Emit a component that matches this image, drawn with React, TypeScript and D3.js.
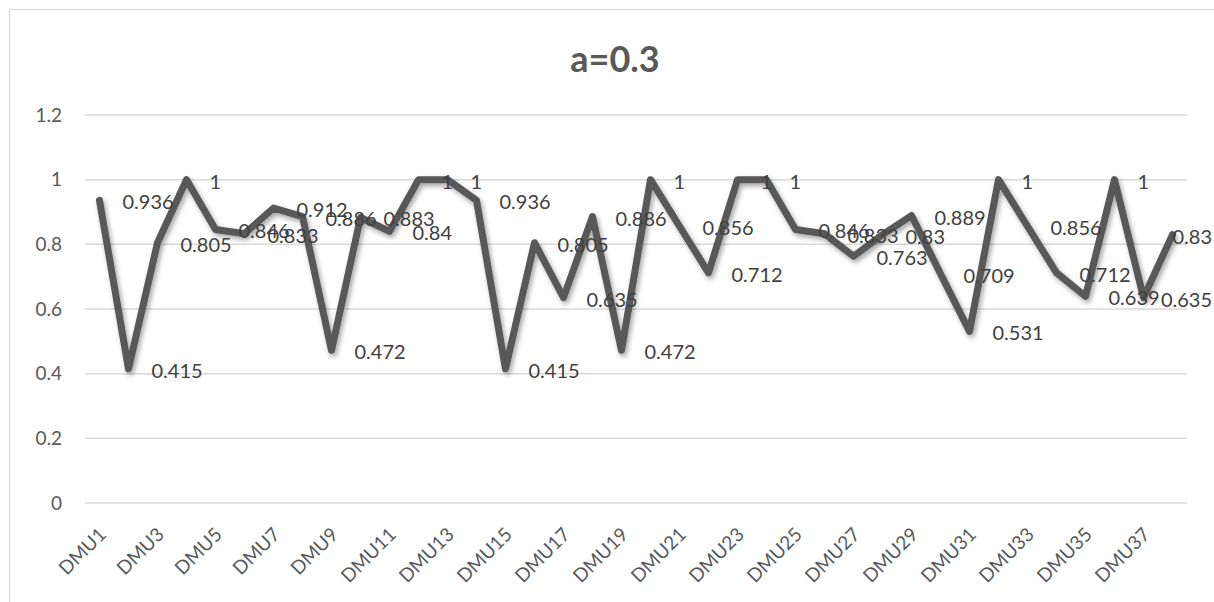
import React, { useEffect, useRef } from "react";
import * as d3 from "d3";

const categories: string[] = Array.from({ length: 38 }, (_, i) => `DMU${i + 1}`);
const values: number[] = [
  0.936, 0.415, 0.805, 1, 0.846, 0.833, 0.912, 0.886, 0.472, 0.883,
  0.84, 1, 1, 0.936, 0.415, 0.805, 0.635, 0.886, 0.472, 1,
  0.856, 0.712, 1, 1, 0.846, 0.833, 0.763, 0.83, 0.889, 0.709,
  0.531, 1, 0.856, 0.712, 0.639, 1, 0.635, 0.83,
];
const yTicks: number[] = [0, 0.2, 0.4, 0.6, 0.8, 1, 1.2];
const title = "a=0.3";

const W = 1214;
const H = 602;
const FONT = "Lato, 'Open Sans', sans-serif";

const x = d3.scalePoint<string>().domain(categories).range([85, 1187]).padding(0.5);
const y = d3.scaleLinear().domain([0, 1.2]).range([503, 115]);
const fmt = d3.format("~g");

export default function App() {
  const labelsRef = useRef<SVGGElement | null>(null);

  useEffect(() => {
    document.body.style.margin = "0";
    const g = labelsRef.current;
    if (!g) return;
    g.querySelectorAll("text").forEach((el) => {
      const t = el as SVGTextElement;
      const w = t.getComputedTextLength();
      const lx = +t.getAttribute("x")!;
      if (lx + w > W - 2) t.setAttribute("x", String(W - 2 - w));
    });
  }, []);

  const line = d3.line<number>().x((_, i) => x(categories[i]) as number).y((d) => y(d));

  return (
    <svg width={W} height={H} style={{ display: "block" }}>
      <defs>
        <filter id="shadow" x="-10%" y="-10%" width="120%" height="130%">
          <feDropShadow dx={2} dy={3} stdDeviation={2.5} floodColor="#000" floodOpacity={0.35} />
        </filter>
      </defs>
      <rect width={W} height={H} fill="#fff" />
      <rect x={9.5} y={9.5} width={W + 20} height={H + 20} fill="none" stroke="#d9d9d9" strokeWidth={1.2} />
      <text x={615} y={72} textAnchor="middle" fontFamily={FONT} fontWeight="bold" fontSize={36} fill="#595959">
        {title}
      </text>
      {yTicks.map((t) => (
        <line key={`g${t}`} x1={85} x2={1187} y1={y(t)} y2={y(t)} stroke="#d9d9d9" strokeWidth={1.5} />
      ))}
      {yTicks.map((t) => (
        <text key={`y${t}`} x={62} y={y(t)} dy="0.35em" textAnchor="end" fontFamily={FONT} fontSize={19} fill="#595959">
          {fmt(t)}
        </text>
      ))}
      {categories.filter((_, i) => i % 2 === 0).map((c) => {
        const cx = (x(c) as number) + 3;
        const cy = 531;
        return (
          <text
            key={c}
            x={cx}
            y={cy}
            dy="0.35em"
            textAnchor="end"
            transform={`rotate(-45, ${cx}, ${cy})`}
            fontFamily={FONT}
            fontSize={19}
            fill="#595959"
          >
            {c}
          </text>
        );
      })}
      <path
        d={line(values) ?? ""}
        fill="none"
        stroke="#595959"
        strokeWidth={7}
        strokeLinejoin="round"
        strokeLinecap="round"
        filter="url(#shadow)"
      />
      <g ref={labelsRef}>
        {values.map((v, i) => (
          <text
            key={`l${i}`}
            x={(x(categories[i]) as number) + 23}
            y={y(v) + 2}
            dy="0.35em"
            fontFamily={FONT}
            fontSize={20}
            fill="#404040"
          >
            {fmt(v)}
          </text>
        ))}
      </g>
    </svg>
  );
}
